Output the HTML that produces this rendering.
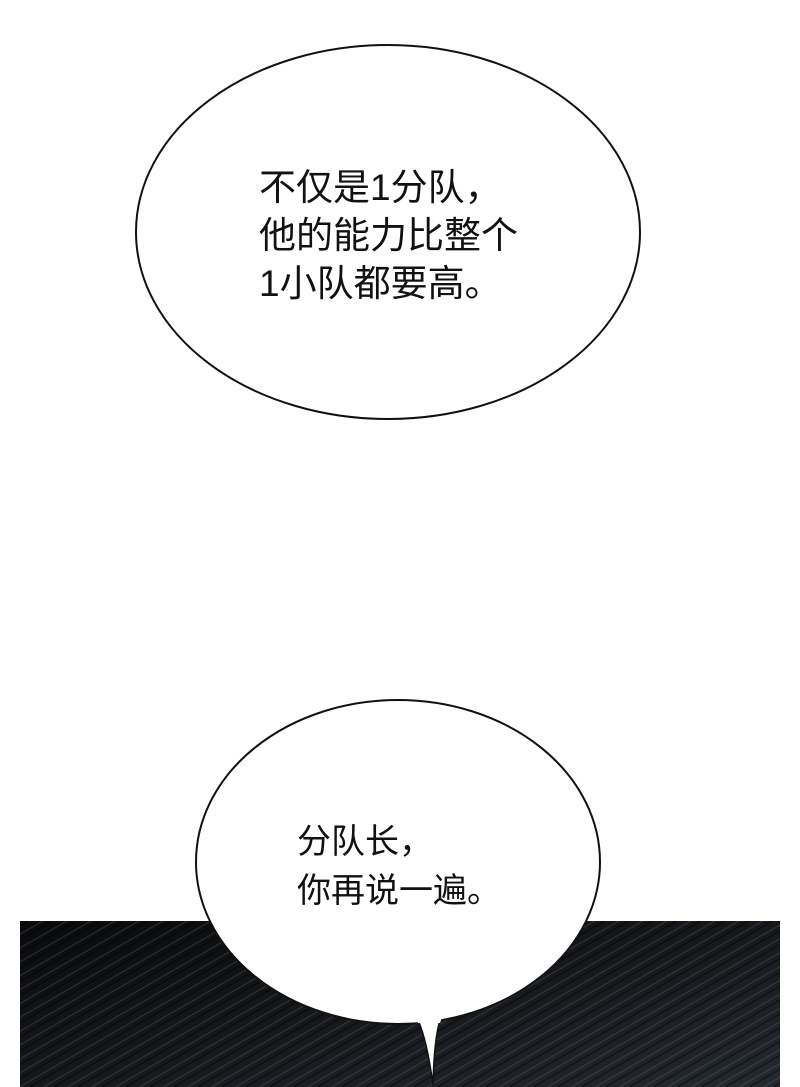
<!DOCTYPE html>
<html><head><meta charset="utf-8"><style>
body{margin:0;width:800px;height:1087px;background:#fff;overflow:hidden;position:relative}
svg{position:absolute;left:0;top:0}
.t{position:absolute;font-family:"Liberation Sans","Noto Sans CJK SC",sans-serif;color:#111;white-space:nowrap}
</style></head><body>
<svg width="800" height="1087">
<defs>
<linearGradient id="g" x1="0" y1="0" x2="1" y2="1">
<stop offset="0" stop-color="#0a0b0c"/><stop offset="0.5" stop-color="#16181b"/><stop offset="1" stop-color="#252a30"/>
</linearGradient>
<pattern id="p" width="12" height="12" patternUnits="userSpaceOnUse" patternTransform="rotate(-30)">
<line x1="0" y1="3" x2="12" y2="3" stroke="#6a7078" stroke-width="0.7"/>
<line x1="0" y1="8" x2="12" y2="8" stroke="#000" stroke-width="1.4"/>
</pattern>
</defs>
<rect x="20" y="921" width="760" height="166" fill="url(#g)"/>
<rect x="20" y="921" width="760" height="166" fill="url(#p)" opacity="0.5"/>
<ellipse cx="388" cy="232" rx="252" ry="187" fill="#fff" stroke="#111" stroke-width="2"/>
<ellipse cx="398" cy="862" rx="202" ry="162" fill="#fff" stroke="#111" stroke-width="2"/>
<path d="M418 1020 Q427 1040 433 1085 Q434 1040 440 1020 Z" fill="#fff" stroke="#111" stroke-width="1.5"/>
<path d="M416 1017 L442 1017 L440 1023 L418 1023 Z" fill="#fff"/>
</svg>
<div class="t" style="left:259px;top:164px;font-size:37px;line-height:48px">不仅是1分队，<br>他的能力比整个<br>1小队都要高。</div>
<div class="t" style="left:297px;top:818px;font-size:34px;line-height:49px">分队长，<br>你再说一遍。</div>
</body></html>
